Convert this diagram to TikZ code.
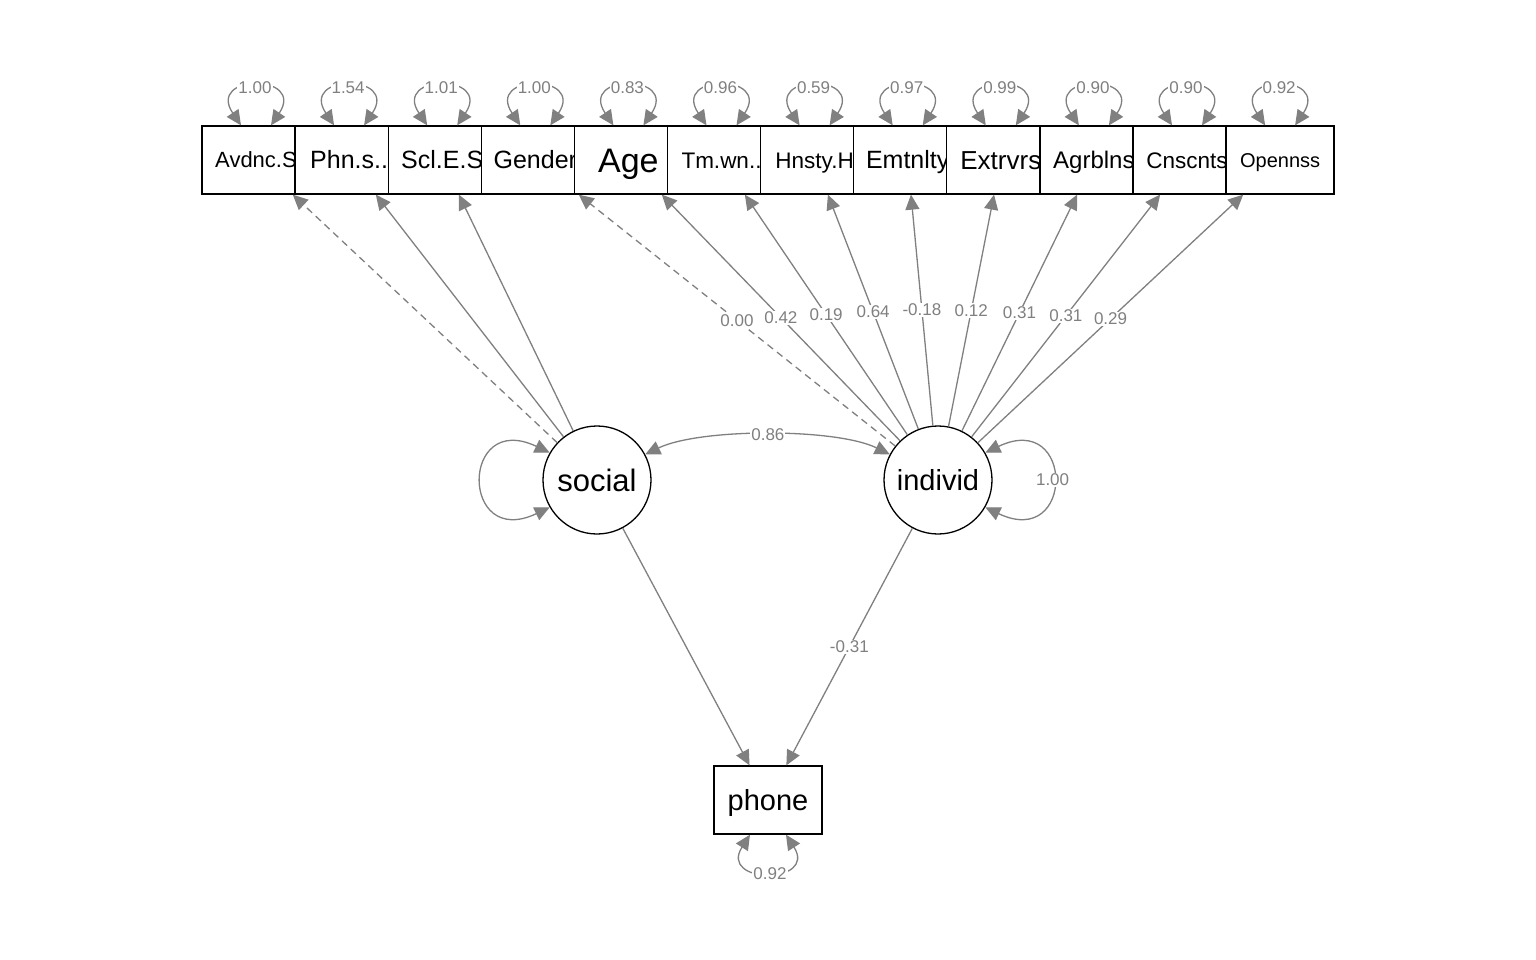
\documentclass[tikz,border=0pt]{standalone}
\usepackage{fontspec}
\setmainfont{Liberation Sans}
\usetikzlibrary{arrows.meta,calc}
\definecolor{eg}{HTML}{808080}
\begin{document}
\begin{tikzpicture}[x=1pt,y=-1pt,
  obs/.style={draw=black, line width=1.3pt, fill=white, minimum width=108pt, minimum height=68pt, inner sep=0pt},
  lat/.style={draw=black, circle, line width=1.3pt, fill=white, minimum size=108pt, inner sep=0pt},
  fs/.style={font=\fontsize{#1}{#1}\selectfont, text height={0.716*#1pt}, text depth=0pt},
  edge/.style={draw=eg, line width=1.3pt, -{Triangle[length=15pt,width=14pt]}},
  dedge/.style={edge, dash pattern=on 7pt off 5pt},
  cov/.style={draw=eg, line width=1.3pt, {Triangle[length=15pt,width=14pt]}-{Triangle[length=15pt,width=14pt]}},
  lab/.style={text=eg, font=\fontsize{17}{17}\selectfont, fill=white, inner sep=1pt}
]
\useasboundingbox (0,0) rectangle (1536,960);
\fill[white] (0,0) rectangle (1536,960);

% observed indicators
\foreach \i/\t/\s in {0/Avdnc.S/22,1/Phn.s../25,2/Scl.E.S/25,3/Gender/25,4/Age/34,5/Tm.wn../22.5,6/Hnsty.H/22.5,7/Emtnlty/25,8/Extrvrs/26,9/Agrblns/24,10/Cnscnts/22.5,11/Opennss/20}{
  \node[obs, fs=\s] (b\i) at ({256+93.1*\i},160) {\t};
}

% latent variables and outcome
\node[lat, fs=31] (social) at (597,480) {social};
\node[lat, fs=29] (individ) at (938,480) {individ};
\node[obs, fs=29] (phone) at (768,800) {phone};

% loadings
\draw[dedge] (social) -- (b0);
\draw[edge] (social) -- (b1);
\draw[edge] (social) -- (b2);
\draw[dedge] (individ) -- (b3);
\foreach \i in {4,...,11}{
  \draw[edge] (individ) -- (b\i);
}
% regressions
\draw[edge] (social) -- (phone);
\draw[edge] (individ) -- (phone);

% covariance
\draw[cov] (social.28) .. controls (700,428) and (836,428) .. (individ.152) node[lab,pos=.5] {0.86};

% latent variances
\draw[cov] (social.150) .. controls (460,410) and (460,550) .. (social.210);
\draw[cov] (individ.30) .. controls (1075,410) and (1075,550) .. (individ.330) node[lab,pos=.5] {1.00};

% loading labels
\foreach \i/\v in {3/0.00,4/0.42,5/0.19,6/0.64,7/-0.18,8/0.12,9/0.31,10/0.31,11/0.29}{
  \path (individ) -- (b\i) node[lab,pos=.5] {\v};
}
\path (individ) -- (phone) node[lab,pos=.5] {-0.31};

% residual variances of indicators
\foreach \i/\v in {0/1.00,1/1.54,2/1.01,3/1.00,4/0.83,5/0.96,6/0.59,7/0.97,8/0.99,9/0.90,10/0.90,11/0.92}{
  \coordinate (l\i) at ($(b\i.north)+(-15,0)$);
  \coordinate (r\i) at ($(b\i.north)+(15,0)$);
  \draw[cov] (l\i) .. controls ($(b\i.north)+(-50,-52)$) and ($(b\i.north)+(50,-52)$) .. (r\i);
  \node[lab] (v\i) at ($(b\i.north)+(-1,-38)$) {\v};
}

% residual variance of phone
\coordinate (pl) at ($(phone.south)+(-18,0)$);
\coordinate (pr) at ($(phone.south)+(18,0)$);
\draw[cov] (pl) .. controls ($(phone.south)+(-50,50)$) and ($(phone.south)+(50,50)$) .. (pr);
\node[lab] (pv) at ($(phone.south)+(2,39)$) {0.92};
\end{tikzpicture}
\end{document}
